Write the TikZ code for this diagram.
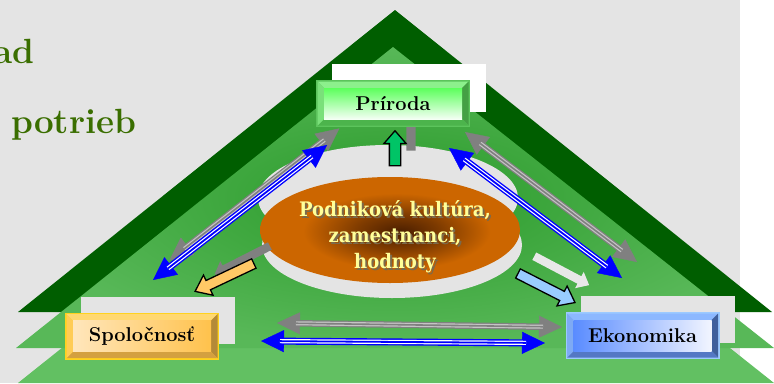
\documentclass[tikz,border=0pt]{standalone}
\usepackage{fontspec}
\newfontfamily\culturefont[FakeStretch=0.9]{DejaVu Serif}
\usetikzlibrary{arrows.meta,shapes.arrows,calc}

\definecolor{bggrey}{HTML}{E4E4E4}
\definecolor{dkgreen}{HTML}{005E00}
\definecolor{midgreenA}{HTML}{2A9A2A}
\definecolor{midgreenB}{HTML}{58B858}
\definecolor{ltgreen}{HTML}{62C062}
\definecolor{orangec}{HTML}{CC6600}
\definecolor{brownc}{HTML}{4A1E00}
\colorlet{midbrown}{brownc!60!orangec}
\definecolor{olivetext}{HTML}{3A6E00}
\definecolor{arrowblue}{HTML}{0000FF}
\definecolor{arrowgrey}{HTML}{808080}
\definecolor{gapgrey}{HTML}{C4C4C4}
\definecolor{culttextc}{HTML}{FFFF99}
\definecolor{cultshadow}{HTML}{7A6A4C}
% Priroda colours
\definecolor{pborder}{HTML}{5CC45C}
\definecolor{ptop}{HTML}{8CF08C}
\definecolor{pleft}{HTML}{7AE07A}
\definecolor{pbottom}{HTML}{4CB44C}
\definecolor{pright}{HTML}{44A044}
\definecolor{pfaceA}{HTML}{5CFF5C}
\definecolor{pfaceB}{HTML}{F4FFF4}
% Spolocnost colours
\definecolor{sborder}{HTML}{FFD21E}
\definecolor{stop}{HTML}{FFD870}
\definecolor{sleft}{HTML}{FFCC55}
\definecolor{sbottom}{HTML}{D4A040}
\definecolor{sright}{HTML}{B48A38}
\definecolor{sfaceA}{HTML}{FFF6EC}
\definecolor{sfaceB}{HTML}{FFC24C}
% Ekonomika colours
\definecolor{eborder}{HTML}{9CCAFF}
\definecolor{etop}{HTML}{8CB8FF}
\definecolor{eleft}{HTML}{7EAAF4}
\definecolor{ebottom}{HTML}{5478C4}
\definecolor{eright}{HTML}{40609C}
\definecolor{efaceA}{HTML}{5A8CFF}
\definecolor{efaceB}{HTML}{F2F5FF}
\definecolor{orangearrow}{HTML}{FFC866}
\definecolor{bluearrow}{HTML}{99CCFF}
\definecolor{greenarrow}{HTML}{00C466}
\definecolor{whitearrow}{HTML}{E8E8E8}

\pgfdeclareradialshading{orangeglow}{\pgfpoint{2bp}{-1bp}}{color(0bp)=(brownc); color(8bp)=(midbrown); color(18bp)=(orangec); color(50bp)=(orangec)}

\newcommand\shadowline[1]{\leavevmode\rlap{\kern2pt\raisebox{-2pt}{\textcolor{cultshadow}{#1}}}\textcolor{culttextc}{#1}}

\tikzset{
  pface/.style={top color=pfaceA, bottom color=pfaceB},
  sface/.style={left color=sfaceB!30!sfaceA, right color=sfaceB},
  eface/.style={left color=efaceA, right color=efaceB},
  boxtext/.style={minimum width=154pt, minimum height=47pt, inner sep=0pt,
    font=\fontsize{20}{24}\selectfont\bfseries, text=black},
  tripleblue/.style={draw=arrowblue, line width=7pt,
    {Triangle[length=23pt,width=22pt,line width=0.4pt]}-{Triangle[length=23pt,width=22pt,line width=0.4pt]},
    postaction={draw=white, line width=4.2pt, shorten <=19pt, shorten >=19pt, -},
    postaction={draw=arrowblue, line width=1.8pt, shorten <=19pt, shorten >=19pt, -}},
  triplegrey/.style={draw=arrowgrey, line width=6.5pt,
    {Triangle[length=23pt,width=22pt,line width=0.4pt]}-{Triangle[length=23pt,width=22pt,line width=0.4pt]},
    postaction={draw=gapgrey, line width=4pt, shorten <=19pt, shorten >=19pt, -},
    postaction={draw=arrowgrey, line width=1.6pt, shorten <=19pt, shorten >=19pt, -}},
  blockarrow/.style={single arrow, inner xsep=0pt, single arrow head indent=0pt,
    anchor=center, line width=1.3pt, draw=black},
  flatarrow/.style={single arrow, inner xsep=0pt, single arrow head indent=0pt,
    anchor=center, draw=none},
  sidetext/.style={anchor=base west, inner sep=0pt, text=olivetext,
    font=\fontsize{35}{40}\selectfont\bfseries},
  culttext/.style={align=center, inner sep=0pt,
    font=\culturefont\bfseries\fontsize{20}{26}\selectfont}
}

\newcommand\bevelbox[5]{%
  \begin{scope}[shift={(#2,#3)}]
    \fill[#5border] (-77,-23.5) rectangle (77,23.5);
    \fill[#5top] (-75.5,-22) -- (75.5,-22) -- (69,-15.5) -- (-69,-15.5) -- cycle;
    \fill[#5right] (75.5,-22) -- (75.5,22) -- (69,15.5) -- (69,-15.5) -- cycle;
    \fill[#5bottom] (75.5,22) -- (-75.5,22) -- (-69,15.5) -- (69,15.5) -- cycle;
    \fill[#5left] (-75.5,22) -- (-75.5,-22) -- (-69,-15.5) -- (-69,15.5) -- cycle;
    \shade[#5face] (-69,-15.5) rectangle (69,15.5);
  \end{scope}
  \node[boxtext] (#1) at (#2,#3) {#4};}

\begin{document}
\begin{tikzpicture}[x=1pt,y=-1pt]
\useasboundingbox (0,0) rectangle (774,383);
\clip (0,0) rectangle (774,383);
% background
\fill[white] (0,0) rectangle (774,383);
\fill[bggrey] (0,0) rectangle (740,383);

% side texts
\node[sidetext] (ad) at (-7,63) {ad};
\node[sidetext] (potrieb) at (11,133) {potrieb};

% layered triangles
\fill[ltgreen] (395,82) -- (18,383) -- (774,383) -- cycle;
\fill[dkgreen] (395,10) -- (18,312) -- (772,312) -- cycle;
\shade[inner color=midgreenA, outer color=midgreenB] (393,47) -- (16,348) -- (774,348) -- cycle;

% ellipses
\fill[bggrey] (388,198) ellipse (130 and 53);
\fill[bggrey] (392,245) ellipse (130 and 53);
\shade[shading=orangeglow] (390,230) ellipse (130 and 53);

% shadow boxes
\fill[white] (332,64) rectangle (486,112);
\fill[bggrey] (81,297) rectangle (235,344);
\fill[bggrey] (581,296) rectangle (735,343);

% connector end points
\coordinate (gps1) at (339.4,128.4);
\coordinate (gps2) at (169.4,260.4);
\coordinate (bps1) at (327,145);
\coordinate (bps2) at (153,280);
\coordinate (gpe1) at (465,132);
\coordinate (gpe2) at (637,262);
\coordinate (bpe1) at (449,148);
\coordinate (bpe2) at (622,278);
\coordinate (gse1) at (277,323);
\coordinate (gse2) at (562,327);
\coordinate (bse1) at (261,341);
\coordinate (bse2) at (545,343);

% grey triple arrows
\draw[triplegrey] (gps1) -- (gps2);
\draw[triplegrey] (gpe1) -- (gpe2);
\draw[triplegrey] (gse1) -- (gse2);
% blue triple arrows
\draw[tripleblue] (bps1) -- (bps2);
\draw[tripleblue] (bpe1) -- (bpe2);
\draw[tripleblue] (bse1) -- (bse2);

% block arrows from the centre
\node[flatarrow, fill=arrowgrey, rotate=207, minimum height=62pt, inner ysep=4pt,
  single arrow head extend=5pt, single arrow tip angle=80] (shadowS) at (244.5,259) {};
\node[blockarrow, fill=orangearrow, rotate=205.4, minimum height=65pt, inner ysep=4.5pt,
  single arrow head extend=6pt, single arrow tip angle=75] (toS) at (227.5,276) {};
\node[flatarrow, fill=whitearrow, rotate=-27.8, minimum height=62pt, inner ysep=4pt,
  single arrow head extend=5pt, single arrow tip angle=80] (shadowE) at (559.5,269.5) {};
\node[blockarrow, fill=bluearrow, rotate=-27, minimum height=64pt, inner ysep=4.5pt,
  single arrow head extend=6pt, single arrow tip angle=75] (toE) at (543.5,286.5) {};
\node[flatarrow, fill=arrowgrey, rotate=90, minimum height=33pt, inner ysep=4.5pt,
  single arrow head extend=4pt, single arrow tip angle=87] (shadowP) at (411,136.5) {};
\node[blockarrow, fill=greenarrow, rotate=90, minimum height=35pt, inner ysep=5pt,
  single arrow head extend=5.5pt, single arrow tip angle=82] (toP) at (395,151.5) {};

% boxes
\bevelbox{priroda}{393}{103.5}{Príroda}{p}
\bevelbox{spolocnost}{142}{336}{Spoločnosť}{s}
\bevelbox{ekonomika}{642.5}{335.5}{Ekonomika}{e}

% centre text
\node[culttext] (kultura) at (395,238)
  {\shadowline{Podniková kultúra,}\\\shadowline{zamestnanci,}\\\shadowline{hodnoty}};
\end{tikzpicture}
\end{document}
